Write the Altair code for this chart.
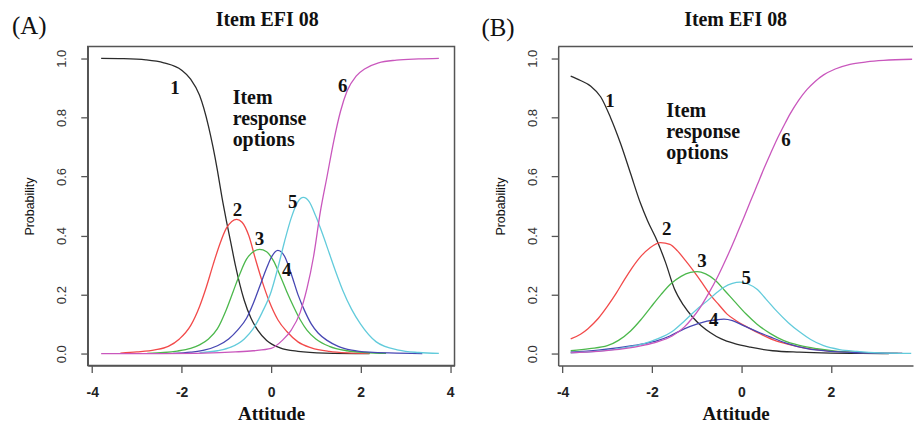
import altair as alt
import pandas as pd

CATS = ["1", "2", "3", "4", "5", "6"]
COLORS = ["#2b2b2b", "#f24a4a", "#4cb84c", "#4747b3", "#62cbdb", "#c957bd"]
X_TICKS = [-4, -2, 0, 2, 4]
Y_TICKS = [0.0, 0.2, 0.4, 0.6, 0.8, 1.0]
Y_DOMAIN = [-0.04, 1.04]

# ---------------- Panel A: category response curves ----------------
A1_x = [-3.8, -3.3, -2.8, -2.4, -2.0, -1.8, -1.6, -1.4, -1.3, -1.2, -1.1, -1.0, -0.9, -0.8, -0.7, -0.6, -0.45, -0.3, -0.1, 0.2, 0.6, 1.2, 2.2]
A1_p = [1.0, 0.999, 0.995, 0.985, 0.96, 0.93, 0.875, 0.77, 0.70, 0.62, 0.53, 0.45, 0.375, 0.30, 0.235, 0.18, 0.12, 0.08, 0.045, 0.02, 0.008, 0.002, 0.0]
A2_x = [-3.37, -3.0, -2.6, -2.3, -2.05, -1.8, -1.6, -1.45, -1.3, -1.15, -1.0, -0.88, -0.77, -0.65, -0.5, -0.35, -0.2, -0.05, 0.15, 0.35, 0.6, 0.9, 1.3, 1.7, 2.2]
A2_p = [0.002, 0.006, 0.013, 0.025, 0.05, 0.095, 0.16, 0.225, 0.30, 0.37, 0.425, 0.448, 0.455, 0.445, 0.40, 0.32, 0.245, 0.18, 0.115, 0.075, 0.04, 0.02, 0.008, 0.003, 0.001]
A3_x = [-2.77, -2.4, -2.1, -1.8, -1.6, -1.4, -1.2, -1.0, -0.85, -0.7, -0.55, -0.4, -0.26, -0.1, 0.05, 0.2, 0.35, 0.5, 0.65, 0.8, 1.0, 1.3, 1.7, 2.1, 2.57]
A3_p = [0.001, 0.004, 0.009, 0.018, 0.03, 0.05, 0.085, 0.15, 0.21, 0.27, 0.32, 0.345, 0.353, 0.345, 0.315, 0.265, 0.21, 0.16, 0.115, 0.08, 0.05, 0.025, 0.01, 0.004, 0.001]
A4_x = [-2.19, -1.8, -1.5, -1.2, -0.95, -0.75, -0.55, -0.4, -0.25, -0.1, 0.0, 0.15, 0.3, 0.45, 0.6, 0.75, 0.9, 1.05, 1.25, 1.5, 1.8, 2.2, 2.8, 3.38]
A4_p = [0.001, 0.005, 0.012, 0.027, 0.05, 0.08, 0.12, 0.17, 0.23, 0.29, 0.325, 0.35, 0.33, 0.27, 0.2, 0.145, 0.1, 0.07, 0.045, 0.025, 0.012, 0.005, 0.002, 0.0]
A5_x = [-1.6, -1.2, -0.9, -0.6, -0.4, -0.2, 0.0, 0.15, 0.3, 0.45, 0.6, 0.72, 0.85, 1.0, 1.15, 1.3, 1.45, 1.6, 1.8, 2.0, 2.35, 2.85, 3.3, 3.75]
A5_p = [0.003, 0.01, 0.022, 0.05, 0.085, 0.14, 0.21, 0.29, 0.38, 0.46, 0.515, 0.529, 0.515, 0.465, 0.405, 0.34, 0.275, 0.215, 0.15, 0.1, 0.04, 0.012, 0.004, 0.001]
A6_x = [-3.8, -2.5, -1.5, -0.8, -0.4, 0.0, 0.25, 0.45, 0.65, 0.8, 0.95, 1.1, 1.25, 1.4, 1.55, 1.7, 1.9, 2.1, 2.4, 2.8, 3.3, 3.75]
A6_p = [0.0, 0.0005, 0.002, 0.006, 0.01, 0.018, 0.045, 0.08, 0.14, 0.22, 0.33, 0.48, 0.6, 0.72, 0.82, 0.89, 0.94, 0.965, 0.985, 0.994, 0.998, 1.0]

A_lab_x = [-2.15, -0.75, -0.26, 0.35, 0.485, 1.6]
A_lab_p = [0.90, 0.485, 0.388, 0.285, 0.513, 0.906]
A_note_x = [-0.86]
A_note_p = [0.845]

# ---------------- Panel B: category response curves ----------------
B1_x = [-3.82, -3.6, -3.37, -3.15, -2.93, -2.7, -2.48, -2.26, -2.1, -1.88, -1.7, -1.5, -1.3, -1.1, -0.9, -0.7, -0.45, -0.15, 0.2, 0.7, 1.3, 2.0, 2.7, 3.3]
B1_p = [0.94, 0.925, 0.906, 0.87, 0.80, 0.71, 0.61, 0.51, 0.45, 0.38, 0.31, 0.22, 0.165, 0.125, 0.095, 0.072, 0.05, 0.034, 0.022, 0.01, 0.005, 0.002, 0.001, 0.0]
B2_x = [-3.82, -3.6, -3.44, -3.2, -3.0, -2.8, -2.62, -2.45, -2.26, -2.05, -1.81, -1.6, -1.43, -1.25, -1.06, -0.88, -0.7, -0.5, -0.32, -0.1, 0.13, 0.45, 0.73, 1.1, 1.47, 2.0, 2.5, 3.0, 3.6]
B2_p = [0.05, 0.066, 0.084, 0.12, 0.16, 0.205, 0.25, 0.29, 0.328, 0.358, 0.376, 0.37, 0.348, 0.315, 0.278, 0.24, 0.2, 0.165, 0.134, 0.11, 0.09, 0.065, 0.046, 0.03, 0.018, 0.009, 0.005, 0.002, 0.001]
B3_x = [-3.82, -3.4, -3.0, -2.75, -2.48, -2.25, -2.03, -1.8, -1.59, -1.35, -1.14, -0.99, -0.8, -0.6, -0.38, -0.16, 0.1, 0.35, 0.65, 0.95, 1.3, 1.69, 2.1, 2.5, 3.0, 3.5]
B3_p = [0.01, 0.017, 0.027, 0.045, 0.077, 0.115, 0.157, 0.2, 0.235, 0.262, 0.275, 0.278, 0.27, 0.25, 0.215, 0.178, 0.135, 0.1, 0.068, 0.044, 0.028, 0.017, 0.009, 0.005, 0.002, 0.001]
B4_x = [-3.82, -3.2, -2.62, -2.2, -1.88, -1.6, -1.28, -1.0, -0.77, -0.55, -0.39, -0.2, 0.06, 0.35, 0.64, 1.0, 1.47, 2.0, 2.5, 3.0, 3.6]
B4_p = [0.005, 0.012, 0.023, 0.033, 0.044, 0.06, 0.084, 0.1, 0.11, 0.115, 0.117, 0.112, 0.094, 0.075, 0.057, 0.036, 0.017, 0.008, 0.004, 0.002, 0.001]
B5_x = [-3.82, -3.2, -2.62, -2.2, -1.88, -1.55, -1.28, -1.0, -0.77, -0.55, -0.39, -0.2, -0.03, 0.15, 0.35, 0.55, 0.79, 1.05, 1.3, 1.55, 1.84, 2.2, 2.58, 3.1, 3.8]
B5_p = [0.003, 0.009, 0.02, 0.033, 0.05, 0.075, 0.11, 0.15, 0.178, 0.207, 0.225, 0.238, 0.242, 0.236, 0.218, 0.185, 0.144, 0.105, 0.074, 0.048, 0.027, 0.014, 0.008, 0.003, 0.001]
B6_x = [-3.82, -3.2, -2.62, -2.2, -1.88, -1.55, -1.28, -1.1, -0.92, -0.73, -0.54, -0.4, -0.25, -0.1, 0.06, 0.2, 0.35, 0.5, 0.65, 0.8, 0.95, 1.09, 1.28, 1.47, 1.65, 1.84, 2.1, 2.43, 2.8, 3.18, 3.82]
B6_p = [0.003, 0.008, 0.017, 0.028, 0.04, 0.06, 0.09, 0.12, 0.157, 0.205, 0.258, 0.302, 0.352, 0.405, 0.463, 0.515, 0.57, 0.625, 0.677, 0.727, 0.772, 0.812, 0.858, 0.895, 0.922, 0.944, 0.964, 0.98, 0.988, 0.993, 0.997]

B_lab_x = [-2.94, -1.67, -0.88, -0.62, 0.11, 1.0]
B_lab_p = [0.857, 0.423, 0.313, 0.114, 0.257, 0.722]
B_note_x = [-1.68]
B_note_p = [0.802]

NOTE_TEXT = "Item\nresponse\noptions"
TITLE = "Item EFI 08"

SERIF = "Liberation Serif"
SANS = "Liberation Sans"
BOX = "#555555"


def curve_frame(xs_list, ps_list):
    rows = []
    for cat, xs, ps in zip(CATS, xs_list, ps_list):
        for x, p in zip(xs, ps):
            rows.append({"cat": cat, "x": x, "p": p})
    return pd.DataFrame(rows)


def panel(df, lab_x, lab_p, note_x, note_p, tag, xdom, width, boxed,
          tag_dx, tag_dy, title_dx, title_dy):
    xs = alt.Scale(domain=xdom, nice=False, zero=False)
    ys = alt.Scale(domain=Y_DOMAIN, nice=False, zero=False)
    xaxis = alt.Axis(values=X_TICKS, labelExpr="datum.value + ''", orient="bottom",
                     tickSize=7, tickWidth=1.3, tickColor=BOX,
                     domain=True, domainColor=BOX, domainWidth=1.5,
                     labelFont=SANS, labelFontSize=14, labelFontWeight="bold", labelColor="#222",
                     labelPadding=13, labelFlush=False,
                     titleFont=SERIF, titleFontSize=19, titleFontWeight="bold", titleColor="#111",
                     titlePadding=5, grid=False)
    yaxis = alt.Axis(values=Y_TICKS, format=".1f", orient="left",
                     tickSize=7, tickWidth=1.3, tickColor=BOX,
                     domain=True, domainColor=BOX, domainWidth=1.5,
                     labelFont=SANS, labelFontSize=13, labelColor="#333",
                     labelAngle=270, labelAlign="center", labelBaseline="bottom",
                     labelPadding=12, labelFlush=False,
                     titleFont=SANS, titleFontSize=12.5, titleFontWeight="normal", titleColor="#111",
                     titlePadding=19, grid=False)
    X = alt.X("x:Q", scale=xs, axis=xaxis, title="Attitude")
    Y = alt.Y("p:Q", scale=ys, axis=yaxis, title="Probability")
    color = alt.Color("cat:N", scale=alt.Scale(domain=CATS, range=COLORS), legend=None)

    lines = alt.Chart(df).mark_line(strokeWidth=1.3, interpolate="monotone").encode(
        x=X, y=Y, color=color)

    lab_df = pd.DataFrame({"t": CATS, "x": lab_x, "p": lab_p})
    labels = alt.Chart(lab_df).mark_text(font=SERIF, fontSize=19, fontWeight="bold",
                                         color="#111", baseline="middle").encode(
        x=X, y=Y, text="t:N")

    note_df = pd.DataFrame({"t": [NOTE_TEXT], "x": note_x, "p": note_p})
    note = alt.Chart(note_df).mark_text(font=SERIF, fontSize=20, fontWeight="bold", color="#111",
                                        align="left", baseline="alphabetic",
                                        lineBreak="\n", lineHeight=21).encode(
        x=X, y=Y, text="t:N")

    tag_df = pd.DataFrame({"t": [tag]})
    tag_mark = alt.Chart(tag_df).mark_text(font=SERIF, fontSize=25, color="#111",
                                           align="left", baseline="alphabetic").encode(
        x=alt.value(tag_dx), y=alt.value(tag_dy), text="t:N")

    title_df = pd.DataFrame({"t": [TITLE]})
    title_mark = alt.Chart(title_df).mark_text(font=SERIF, fontSize=20, fontWeight="bold",
                                               color="#111", align="center",
                                               baseline="alphabetic").encode(
        x=alt.value(title_dx), y=alt.value(title_dy), text="t:N")

    layers = [lines, labels, note, tag_mark, title_mark]
    if not boxed:
        top_df = pd.DataFrame({"x": [xdom[0]], "x2": [xdom[1]], "p": [Y_DOMAIN[1]]})
        top = alt.Chart(top_df).mark_rule(color=BOX, strokeWidth=1.5).encode(
            x=X, x2="x2:Q", y=Y)
        layers.append(top)

    view = (alt.ViewBackground(stroke=BOX, strokeWidth=1.5) if boxed
            else alt.ViewBackground(strokeOpacity=0))
    return alt.layer(*layers).properties(width=width, height=320, view=view)


dfA = curve_frame([A1_x, A2_x, A3_x, A4_x, A5_x, A6_x], [A1_p, A2_p, A3_p, A4_p, A5_p, A6_p])
dfB = curve_frame([B1_x, B2_x, B3_x, B4_x, B5_x, B6_x], [B1_p, B2_p, B3_p, B4_p, B5_p, B6_p])

panelA = panel(dfA, A_lab_x, A_lab_p, A_note_x, A_note_p, "(A)", [-4.1, 4.1], 368, True,
               -76, -13, 180, -21)
panelB = panel(dfB, B_lab_x, B_lab_p, B_note_x, B_note_p, "(B)", [-4.1, 3.84], 356, False,
               -77, -11, 178, -21)

chart = alt.hconcat(panelA, panelB, spacing=104, bounds="flush").properties(
    padding={"left": 3, "top": 0, "right": 0, "bottom": 0},
    background="white",
)

chart.save("out.html", embed_options={"renderer": "svg", "actions": False})
